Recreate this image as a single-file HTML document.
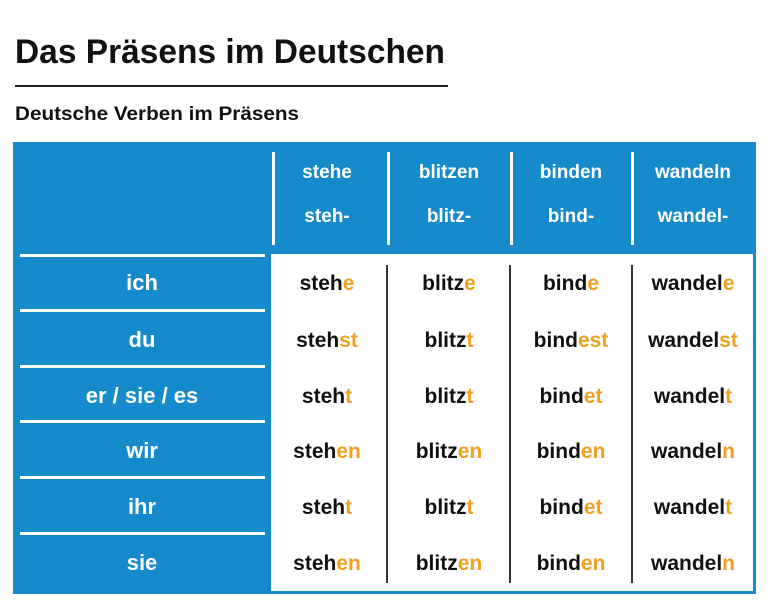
<!DOCTYPE html>
<html><head><meta charset="utf-8"><style>
html,body{margin:0;padding:0;background:#fff;}
svg{display:block;font-family:"Liberation Sans",sans-serif;font-weight:bold;}
</style></head><body>
<svg width="768" height="606" viewBox="0 0 768 606">
<text x="15" y="63" font-size="34" fill="#111" textLength="430" lengthAdjust="spacingAndGlyphs">Das Präsens im Deutschen</text>
<rect x="15" y="85" width="433" height="2" fill="#222"/>
<text x="15" y="120" font-size="19" fill="#111" textLength="284" lengthAdjust="spacingAndGlyphs">Deutsche Verben im Präsens</text>
<rect x="13" y="142" width="743" height="452" fill="#168bcb"/>
<rect x="271" y="254" width="482" height="337" fill="#fff"/>
<g id="g"></g>
</svg>
<script>
const verbs=["stehe","blitzen","binden","wandeln"];
const stems=["steh-","blitz-","bind-","wandel-"];
const pronouns=["ich","du","er / sie / es","wir","ihr","sie"];
const forms=[["steh","e","blitz","e","bind","e","wandel","e"],
["steh","st","blitz","t","bind","est","wandel","st"],
["steh","t","blitz","t","bind","et","wandel","t"],
["steh","en","blitz","en","bind","en","wandel","n"],
["steh","t","blitz","t","bind","et","wandel","t"],
["steh","en","blitz","en","bind","en","wandel","n"]];
const NS="http://www.w3.org/2000/svg";
const g=document.getElementById('g');
const colX=[327,449,571,693];
const rowY=[282,339,395,450,506,562];
function mk(t,a){const e=document.createElementNS(NS,t);for(const k in a)e.setAttribute(k,a[k]);g.appendChild(e);return e;}
[273,388,511,632].forEach(x=>{const l=mk('rect',{x:x-1,y:152,width:3,height:93,fill:'#fff'});

});
[387,510,632].forEach(x=>{const l=mk('rect',{x:x-1,y:265,width:2,height:318,fill:'#333'});

});
[255,310,366,421,477,533].forEach(y=>{const l=mk('rect',{x:20,y:y-1,width:245,height:3,fill:'#fff'});

});
verbs.forEach((v,i)=>{
const t=mk('text',{x:colX[i],y:178,'font-size':19,fill:'#fff','text-anchor':'middle'});t.textContent=v;


const s=mk('text',{x:colX[i],y:222,'font-size':19,fill:'#fff','text-anchor':'middle'});s.textContent=stems[i];

});
pronouns.forEach((p,r)=>{
const t=mk('text',{x:142,y:rowY[r]+8,'font-size':22,fill:'#fff','text-anchor':'middle'});t.textContent=p;


for(let c=0;c<4;c++){
const t2=mk('text',{x:colX[c],y:rowY[r]+8,'font-size':21,fill:'#111','text-anchor':'middle'});


const a=document.createElementNS(NS,'tspan');a.textContent=forms[r][c*2];t2.appendChild(a);
const b=document.createElementNS(NS,'tspan');b.setAttribute('fill','#f0a01e');b.textContent=forms[r][c*2+1];t2.appendChild(b);}
});
</script>
</body></html>
